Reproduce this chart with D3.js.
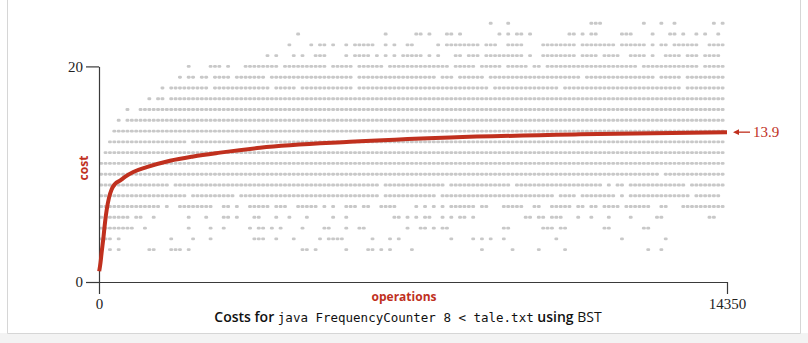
<!DOCTYPE html>
<html>
<head>
<meta charset="utf-8">
<script src="https://cdn.jsdelivr.net/npm/d3@7/dist/d3.min.js"></script>
<style>
  html, body { margin: 0; padding: 0; background: #ffffff; }
  svg { display: block; }
</style>
</head>
<body>
<svg id="chart" width="808" height="343"></svg>
<script>
// ---------------- data ----------------
const totalOps = 14350;
const binOps = 100;            // each gray-dot bin covers 100 operations
const yTicks = [0, 20];
const xTicks = [0, 14350];
const finalAverage = 13.9;

// cost level of each row of gray dots
const costLevels = [3, 4, 5, 6, 7, 8, 9, 10, 11, 12, 13, 14, 15, 16, 17, 18, 19, 20, 21, 22, 23, 24];
// occupied 100-operation bins for each cost level
const occupiedBins = [
  "0,2,4,11,12,16,17,18,20,46,47,49,56,61,62,64,66,71,87,94,100,106,125,128",
  "0-2,4,16,21,25,35,36,37,40,44,50,52,53,54,55,62,66,68,80,85,87,89,92,104,119,129",
  "0-7,10,20,25,28,34,36,37,39,41,46,51,52,56,59,60,70,73,74,76,78,79,92,93,101,102,103,105,106,115,116,124,125",
  "0-6,8,9,12,20,24,28,29,31,35,36,40,43,47,53,56,67,68,70,72,74,75,78,80,82,83,85,97,98,100,101,103-105,109,112,116,121,127,128,139,140",
  "0-13,15,18-25,28,29,31,34-38,40-42,45-49,51,53,56-58,60,61,64-67,72,74,76,78,80-85,87,88,92-96,99,100,103-107,109,110,112,113,115-118,120-125,128,129,133-142",
  "0-19,21-30,32-63,65-76,78-103,105-108,110-117,119,121-134,136-141",
  "0-15,17-63,65-78,80-93,95-114,116,118,119,121-133,135-142",
  "0-127,129-142",
  "0-142",
  "1-142",
  "2-19,21-142",
  "3-142",
  "4,6-142",
  "6,9-142",
  "11,13,14,16-142",
  "14,16-24,26-38,40-44,46-57,59-88,90-104,106-132,134-142",
  "18,20,21,23,24,26-29,31-37,39-57,59-76,78-80,82-87,89-109,111-126,128-132,134-142",
  "20,25-27,29,33-40,42-51,53-57,59-64,66-79,81-85,87-91,93-97,99,100,102-122,124-136,138-142",
  "38,40,44,46,49-51,56,58-61,63,65,67,69-73,75,77,81,82,84-86,88-96,98,101-108,110-113,115-118,121-124,126,129-132,134-136,138-141",
  "43,48,50,51,53,56,58-62,65,67,70,71,77,79-86,88-90,93-96,101-108,110-117,119-124,126,128,129,131-136,139-142",
  "45,65,72,73,75,79,80,82,91,93,95,96,98,107,108,110,112,113,119,120,121,126,130,131,133,136,138,141",
  "89,93,112,113,114,124,128,131,140,142"
];

// running average cost (red curve)
const avgOps  = [5, 35, 62, 98, 137, 176, 228, 290, 366, 480, 594, 784, 1090, 1622, 2155, 2765, 3679, 5735, 8020, 10991, 14350];
const avgCost = [1.0, 1.8, 2.8, 4.0, 5.5, 6.7, 7.8, 8.6, 9.1, 9.4, 9.75, 10.2, 10.65, 11.25, 11.65, 12.0, 12.45, 13.0, 13.4, 13.7, 13.9];

// ---------------- drawing ----------------
const RED = "#c0301e";
const GRAY = "#c8c8c8";
const svg = d3.select("#chart");

// frame
svg.append("rect").attr("x", 0).attr("y", 333).attr("width", 808).attr("height", 10).attr("fill", "#f3f3f3");
svg.append("path").attr("d", "M7.5,0V333.5H800.5V0").attr("fill", "none").attr("stroke", "#d6d6d6");

const x = d3.scaleLinear().domain([0, totalOps]).range([99, 727]);
const y = d3.scaleLinear().domain([0, 20]).range([282, 66.4]);

function parseBins(s) {
  const out = [];
  s.split(",").forEach(tok => {
    const p = tok.split("-").map(Number);
    if (p.length === 1) out.push(p[0]);
    else for (let i = p[0]; i <= p[1]; i++) out.push(i);
  });
  return out;
}

const dots = [];
costLevels.forEach((c, k) => {
  parseBins(occupiedBins[k]).forEach(b => {
    dots.push({ op: Math.min((b + 0.5) * binOps, totalOps), cost: c });
  });
});

const dotW = 3.9, dotH = 2.9;
svg.append("g").selectAll("rect").data(dots).join("rect")
  .attr("x", d => x(d.op) - dotW / 2).attr("y", d => y(d.cost) - dotH / 2)
  .attr("width", dotW).attr("height", dotH).attr("rx", 1.3)
  .attr("fill", GRAY);

// axes
const axisFont = "'Liberation Serif', 'Times New Roman', serif";
const gx = svg.append("g").attr("transform", `translate(0,${y(0)})`)
  .call(d3.axisBottom(x).tickValues(xTicks).tickFormat(d3.format("d")).tickSize(12).tickPadding(4).tickSizeOuter(0));
const gy = svg.append("g").attr("transform", `translate(${x(0)},0)`)
  .call(d3.axisLeft(y).tickValues(yTicks).tickFormat(d3.format("d")).tickSize(13).tickPadding(3).tickSizeOuter(0));
[gx, gy].forEach(g => {
  g.selectAll("path,line").attr("stroke", "#3a3a3a").attr("stroke-width", 1.2);
  g.selectAll("text").attr("fill", "#222").style("font-family", axisFont).style("font-size", "15px");
});

// average curve
const avg = avgOps.map((o, i) => ({ op: o, cost: avgCost[i] }));
svg.append("path").datum(avg)
  .attr("fill", "none").attr("stroke", RED).attr("stroke-width", 4)
  .attr("stroke-linejoin", "round")
  .attr("d", d3.line().x(d => x(d.op)).y(d => y(d.cost)).curve(d3.curveMonotoneX));

// final average annotation
const ay = y(finalAverage);
const ax = x(totalOps);
svg.append("line").attr("x1", ax + 9).attr("x2", ax + 23).attr("y1", ay).attr("y2", ay)
  .attr("stroke", RED).attr("stroke-width", 1.3);
svg.append("path").attr("d", `M${ax + 6},${ay}L${ax + 12},${ay - 2.8}L${ax + 12},${ay + 2.8}Z`).attr("fill", RED);
svg.append("text").attr("x", ax + 26).attr("y", ay + 5).text(finalAverage)
  .attr("fill", RED).style("font-family", axisFont).style("font-size", "15px");

// axis titles
const sans = "'Open Sans', 'Noto Sans', sans-serif";
svg.append("text").attr("transform", `translate(88,168) rotate(-90)`).attr("text-anchor", "middle")
  .attr("fill", RED).style("font-family", sans).style("font-weight", 700).style("font-size", "12px").text("cost");
svg.append("text").attr("x", 404).attr("y", 301).attr("text-anchor", "middle")
  .attr("fill", RED).style("font-family", sans).style("font-weight", 700).style("font-size", "12px").text("operations");

// caption
const cap = svg.append("text").attr("x", 408).attr("y", 322).attr("text-anchor", "middle")
  .attr("fill", "#111").style("font-size", "14px");
cap.append("tspan").style("font-family", sans).style("font-weight", 600).text("Costs for ");
cap.append("tspan").style("font-family", "'DejaVu Sans Mono', monospace").style("font-size", "12.5px").text("java FrequencyCounter 8 < tale.txt");
cap.append("tspan").style("font-family", sans).style("font-weight", 600).text(" using ");
cap.append("tspan").style("font-family", sans).style("font-weight", 500).text("BST");
</script>
</body>
</html>
